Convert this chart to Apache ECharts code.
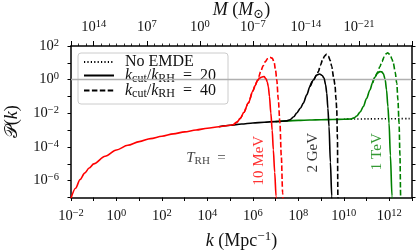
<!DOCTYPE html>
<html><head><meta charset="utf-8">
<script src="https://cdn.jsdelivr.net/npm/echarts@6/dist/echarts.min.js"></script>
<style>html,body{margin:0;padding:0;background:#fff}#c{width:416px;height:251px}</style>
</head><body><div id="c"></div>
<script>
// ---- data (log10 values) ----
const baseLogK = [-2.0,-1.8,-1.6,-1.4,-1.2,-1.0,-0.5,0,0.5,1,1.5,2,2.5,3,3.5,4,4.5,5,5.5,6,6.5,7,7.5,8,8.5,9,9.5,10,10.5,11,12,13];
const baseLogP = [-7.05,-6.45,-5.93,-5.55,-5.25,-5.0,-4.55,-4.18,-3.9,-3.68,-3.5,-3.36,-3.22,-3.10,-2.99,-2.89,-2.80,-2.71,-2.63,-2.57,-2.53,-2.49,-2.45,-2.42,-2.40,-2.38,-2.37,-2.35,-2.34,-2.33,-2.32,-2.31];

const red20LogK = [5.14,5.3,5.45,5.6,5.8,6.0,6.1,6.2,6.3,6.4,6.49,6.58,6.63,6.68,6.73,6.79,6.85,6.9,6.96,7.02,7.06];
const red20LogP = [-2.68,-2.52,-2.3,-1.95,-1.39,-0.68,-0.35,-0.05,0.1,0.16,0.18,0.05,-0.12,-0.41,-1.0,-1.98,-3.0,-4.16,-5.5,-6.92,-8];
const red40LogK = [6.25,6.35,6.45,6.55,6.65,6.75,6.85,6.93,7.0,7.05,7.12,7.19,7.25,7.31,7.34];
const red40LogP = [0.15,0.5,0.82,1.07,1.25,1.33,1.28,1.07,0.55,0.0,-1.2,-2.58,-4.5,-6.72,-8];

const blk20LogK = [7.63,7.8,7.93,8.1,8.22,8.37,8.51,8.66,8.81,8.93,9.05,9.13,9.2,9.25,9.3,9.35,9.41,9.47,9.5];
const blk20LogP = [-2.38,-2.2,-1.98,-1.68,-1.39,-0.9,-0.41,-0.02,0.28,0.34,0.25,0.09,-0.3,-0.8,-1.7,-2.78,-4.9,-6.92,-8];
const blk40LogK = [8.88,8.97,9.07,9.16,9.24,9.32,9.4,9.47,9.55,9.61,9.66,9.69,9.72,9.74,9.77];
const blk40LogP = [0.48,0.85,1.18,1.42,1.5,1.4,1.15,0.78,0.15,-0.3,-1.2,-1.79,-3.5,-6.92,-8];

const grn20LogK = [10.3,10.45,10.57,10.72,10.86,11.0,11.15,11.26,11.37,11.48,11.59,11.67,11.74,11.82,11.88,11.94,11.99,12.05,12.12,12.15];
const grn20LogP = [-2.34,-2.27,-2.16,-1.92,-1.59,-1.12,-0.61,-0.2,0.15,0.38,0.48,0.46,0.36,0.0,-0.61,-1.6,-2.58,-4.5,-6.92,-8];
const grn40LogK = [11.48,11.58,11.68,11.78,11.86,11.93,12.0,12.05,12.12,12.18,12.26,12.33,12.38,12.43,12.47,12.5,12.53];
const grn40LogP = [0.42,0.75,1.08,1.36,1.53,1.6,1.52,1.45,1.22,0.97,0.45,-0.21,-1.2,-2.58,-4.5,-6.92,-8];

const bottomTickExps = [-2,0,2,4,6,8,10,12];
const leftTickExps = [-6,-4,-2,0,2];
const topTickExps = [14,7,0,-7,-14,-21];

const legendNames = ['No EMDE','kcut/kRH = 20','kcut/kRH = 40'];
const annotText = ['TRH =','10 MeV','2 GeV','1 TeV'];
const annotLogK = [3.94,6.27,8.65,11.46];
const annotLogP = [-4.63,-4.81,-4.34,-4.28];

// ---- helpers ----
const F = "'Liberation Serif','DejaVu Serif',serif";
const TXT = '#111';
function zip(k, p){ return k.map((v,i)=>[v,p[i]]); }
function baseUntil(k0){ return zip(baseLogK, baseLogP).filter(d=>d[0] < k0); }
function baseFrom(k0){ return zip(baseLogK, baseLogP).filter(d=>d[0] >= k0); }
function pow10(n){ return '{b|10}{s|' + (n<0 ? '\u2212' + (-n) : n) + '}'; }
const tickRich = {
  b:{fontSize:14.5,fontFamily:F,color:TXT,lineHeight:17},
  s:{fontSize:10.5,fontFamily:F,color:TXT,verticalAlign:'top'}
};
function mkRich(fs, color){
  return {
    n:{fontSize:fs,fontFamily:F,color:color,lineHeight:fs+3},
    i:{fontSize:fs,fontFamily:F,fontStyle:'italic',color:color,lineHeight:fs+3},
    sub:{fontSize:Math.round(fs*0.72),fontFamily:F,color:color,verticalAlign:'bottom'},
    s:{fontSize:Math.round(fs*0.72),fontFamily:F,color:color,verticalAlign:'top'},
    p:{fontSize:fs,fontFamily:F,color:color,lineHeight:fs+3}
  };
}
const nameRich = mkRich(18, TXT);
const legendRich = mkRich(16, TXT);

const red = '#ff0000', grn = '#008000', blk = '#000000';
const LW = 1.6;
const dash = [5.5,2.4];
const dots = [1.2,2.2];

function lineSeries(name, data, color, type, z){
  return {type:'line', name:name, data:data, showSymbol:false, symbol:'none',
    smooth:0.3, smoothMonotone:'x', clip:true, z:z,
    lineStyle:{color:color, width:LW, type:type}, itemStyle:{color:color}, silent:true};
}

const redSolid = baseUntil(red20LogK[0]).concat(zip(red20LogK, red20LogP));
const redDash = zip(red20LogK, red20LogP).filter(d=>d[0] < red40LogK[0]).concat(zip(red40LogK, red40LogP));
const blkSolid = baseUntil(blk20LogK[0]).filter(d=>d[0] >= 4.5).concat(zip(blk20LogK, blk20LogP));
const blkDash = zip(blk20LogK, blk20LogP).filter(d=>d[0] < blk40LogK[0] && d[0] >= 8.5).concat(zip(blk40LogK, blk40LogP));
const grnSolid = baseUntil(grn20LogK[0]).filter(d=>d[0] >= 7).concat(zip(grn20LogK, grn20LogP));
const grnDash = zip(grn20LogK, grn20LogP).filter(d=>d[0] < grn40LogK[0] && d[0] >= 11.2).concat(zip(grn40LogK, grn40LogP));
const dotted = baseFrom(10.0);

const legendFmt = {
  'No EMDE':'{n|No EMDE}',
  'kcut/kRH = 20':'{i|k}{sub|cut}{n|/}{i|k}{sub|RH}{n|  =  20}',
  'kcut/kRH = 40':'{i|k}{sub|cut}{n|/}{i|k}{sub|RH}{n|  =  40}'
};
const annotFmt = ['{i|T}{sub|RH}{n|  =}', '{n|10 MeV}', '{n|2 GeV}', '{n|1 TeV}'];
const annotColor = [TXT, red, blk, grn];
const annotRot = [0, 90, 90, 90];

const axisLineStyle = {onZero:false, lineStyle:{color:'#000', width:1.5}};

const chart = echarts.init(document.getElementById('c'), null, {renderer:'canvas'});
const option = {
  animation:false,
  backgroundColor:'#fff',
  grid:{left:71, right:4, top:46, bottom:53.5, outerBoundsMode:'none'},
  xAxis:[
    {type:'value', position:'bottom', min:-2, max:13, interval:1,
     axisLine:axisLineStyle,
     axisTick:{inside:false, length:3.5, lineStyle:{color:'#000', width:1}},
     axisLabel:{margin:10, formatter:v=>bottomTickExps.includes(v)?pow10(v):'', rich:tickRich},
     splitLine:{show:false},
     name:'{i|k}{n| (Mpc}{s|\u22121}{n|)}', nameLocation:'middle', nameGap:33, nameMoveOverlap:false,
     nameTextStyle:{rich:nameRich}},
    {type:'value', position:'top', min:-28, max:17, interval:7, inverse:true,
     axisLine:axisLineStyle,
     axisTick:{inside:false, length:5, lineStyle:{color:'#000', width:1}},
     minorTick:{show:true, splitNumber:7, length:2.5, lineStyle:{color:'#000', width:0.8}},
     axisLabel:{margin:10, formatter:v=>topTickExps.includes(v)?pow10(v):'', rich:tickRich},
     splitLine:{show:false},
     name:'{i|M}{n| (}{i|M}{sub|\u2299}{n|)}', nameLocation:'middle', nameGap:25, nameMoveOverlap:false,
     nameTextStyle:{rich:nameRich}}
  ],
  yAxis:[
    {type:'value', position:'left', min:-7, max:2, interval:1,
     axisLine:axisLineStyle,
     axisTick:{inside:false, length:3.5, lineStyle:{color:'#000', width:1}},
     axisLabel:{margin:12, formatter:v=>leftTickExps.includes(v)?pow10(v):'', rich:tickRich},
     splitLine:{show:false},
     name:'{p|\uD835\uDCAB(}{i|k}{p|)}', nameLocation:'middle', nameGap:48, nameRotate:90, nameMoveOverlap:false,
     nameTextStyle:{rich:nameRich}},
    {type:'value', position:'right', min:-7, max:2, interval:1,
     axisLine:axisLineStyle,
     axisTick:{inside:false, length:3.5, lineStyle:{color:'#000', width:1}},
     axisLabel:{show:false}, splitLine:{show:false}}
  ],
  legend:{
    left:78, top:53, orient:'vertical', selectedMode:false,
    backgroundColor:'rgba(255,255,255,0.9)', borderColor:'#cccccc', borderWidth:1, borderRadius:3,
    padding:[1,12,4,5], itemWidth:30, itemHeight:14, itemGap:-2.5,
    data:legendNames,
    formatter:n=>legendFmt[n],
    itemStyle:{color:'rgba(0,0,0,0)', borderColor:'rgba(0,0,0,0)', borderWidth:0},
    textStyle:{rich:legendRich, padding:[0,0,0,6]}
  },
  series:[
    Object.assign(lineSeries('dotted', dotted, blk, dots, 2), {
      markLine:{silent:true, symbol:['none','none'], label:{show:false}, animation:false,
        lineStyle:{color:'#b0b0b0', width:1.3, type:'solid'}, data:[{yAxis:0}]}}),
    lineSeries('g40', grnDash, grn, dash, 3),
    lineSeries('g20', grnSolid, grn, 'solid', 4),
    lineSeries('b40', blkDash, blk, dash, 5),
    lineSeries('b20', blkSolid, blk, 'solid', 6),
    lineSeries('r40', redDash, red, dash, 7),
    lineSeries('r20', redSolid, red, 'solid', 8),
    {type:'line', name:legendNames[0], data:[], symbol:'none', lineStyle:{color:blk,width:1.3,type:dots}, itemStyle:{color:blk}},
    {type:'line', name:legendNames[1], data:[], symbol:'none', lineStyle:{color:blk,width:LW,type:'solid'}, itemStyle:{color:blk}},
    {type:'line', name:legendNames[2], data:[], symbol:'none', lineStyle:{color:blk,width:LW,type:dash}, itemStyle:{color:blk}},
    {type:'scatter', name:'annot', silent:true, symbolSize:1, itemStyle:{color:'rgba(0,0,0,0)'}, z:9,
     data:annotText.map((t,i)=>({value:[annotLogK[i], annotLogP[i]],
       label:{show:true, position:'inside', rotate:annotRot[i], formatter:annotFmt[i],
         rich:mkRich(15, annotColor[i])}}))}
  ]
};
chart.setOption(option);
</script>
</body></html>
